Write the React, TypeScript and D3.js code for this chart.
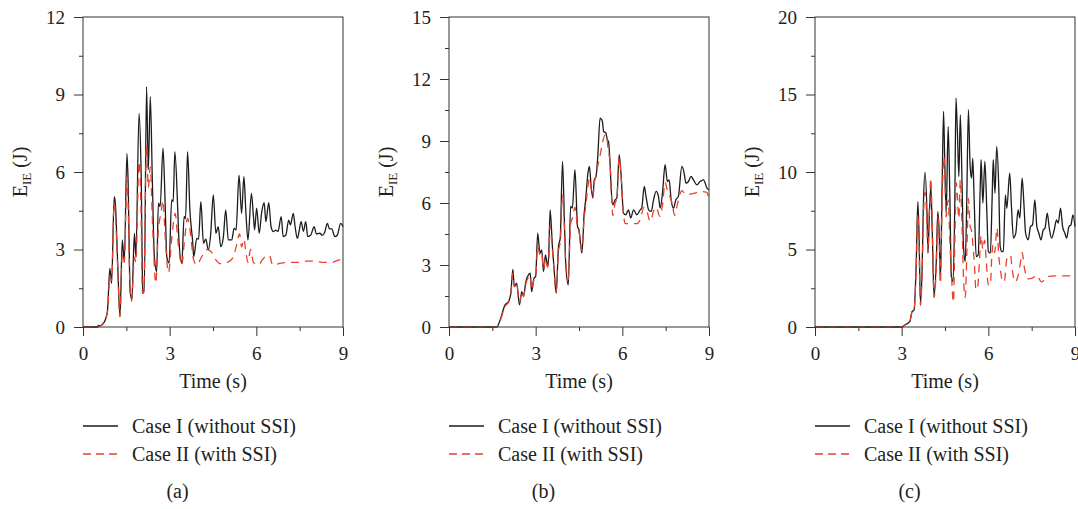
import React, { useEffect, useRef } from 'react';
import * as d3 from 'd3';

// time (s), internal energy (J)
const caseIA: [number, number][] = [
    [0, 0], [0.5, 0], [0.53, 0.06], [0.6, 0.05], [0.7, 0.14], [0.78, 0.3], [0.85, 0.66], [0.93, 2.27],
    [0.99, 1.69], [1.08, 5.05], [1.12, 4.79], [1.2, 2.47], [1.28, 0.4], [1.36, 3.37], [1.43, 2.53],
    [1.52, 6.72], [1.56, 5.69], [1.63, 1.43], [1.69, 1.05], [1.78, 3.63], [1.83, 2.72], [1.94, 8.27],
    [2.01, 6.08], [2.07, 1.43], [2.12, 1.37], [2.2, 9.3], [2.26, 6.08], [2.33, 8.92], [2.4, 5.69],
    [2.47, 2.72], [2.55, 2.14], [2.61, 4.79], [2.67, 4.66], [2.77, 6.92], [2.84, 4.92], [2.9, 2.72],
    [2.98, 2.47], [3.07, 4.92], [3.12, 4.85], [3.18, 6.79], [3.28, 4.53], [3.32, 3.37], [3.42, 2.47],
    [3.5, 4.27], [3.55, 4.2], [3.62, 6.79], [3.7, 4.53], [3.8, 3.24], [3.83, 2.72], [3.94, 3.43],
    [4.0, 3.4], [4.08, 4.85], [4.17, 3.24], [4.25, 3.4], [4.34, 2.98], [4.42, 3.6], [4.51, 5.11],
    [4.6, 3.63], [4.68, 3.88], [4.77, 3.11], [4.86, 3.5], [4.94, 4.53], [5.03, 3.37], [5.15, 3.37],
    [5.23, 3.82], [5.3, 3.75], [5.4, 5.88], [5.49, 4.4], [5.57, 5.82], [5.64, 4.4], [5.71, 3.37],
    [5.83, 5.17], [5.9, 4.27], [5.94, 3.76], [6.01, 4.6], [6.1, 3.63], [6.18, 4.4], [6.27, 4.81],
    [6.33, 4.08], [6.43, 4.81], [6.51, 3.88], [6.59, 3.69], [6.67, 3.75], [6.75, 3.7], [6.86, 4.27],
    [6.93, 3.5], [7.02, 3.55], [7.12, 4.14], [7.18, 3.95], [7.28, 4.4], [7.34, 3.9], [7.42, 3.43],
    [7.48, 3.7], [7.55, 4.08], [7.63, 3.7], [7.71, 4.08], [7.78, 3.5], [7.88, 3.55], [8.0, 3.88],
    [8.08, 3.6], [8.2, 3.63], [8.28, 3.55], [8.36, 3.65], [8.46, 4.01], [8.53, 3.8], [8.61, 3.8],
    [8.72, 3.5], [8.8, 3.55], [8.92, 4.01], [9.0, 3.88],
];

const caseIIA: [number, number][] = [
    [0, 0], [0.5, 0], [0.6, 0.05], [0.7, 0.12], [0.85, 0.6], [0.93, 2.0], [0.99, 1.8], [1.08, 4.8],
    [1.12, 4.4], [1.2, 2.3], [1.28, 0.4], [1.36, 2.8], [1.43, 2.5], [1.52, 5.8], [1.56, 4.8],
    [1.63, 1.4], [1.68, 1.0], [1.78, 2.7], [1.83, 2.5], [1.94, 6.4], [2.0, 5.0], [2.06, 1.3],
    [2.1, 1.3], [2.2, 7.05], [2.26, 5.4], [2.33, 6.2], [2.4, 4.2], [2.52, 1.7], [2.61, 3.8],
    [2.7, 4.4], [2.77, 4.9], [2.84, 3.6], [2.96, 2.1], [3.07, 3.4], [3.19, 4.4], [3.28, 3.4],
    [3.42, 2.4], [3.5, 3.2], [3.62, 4.2], [3.7, 3.8], [3.83, 2.6], [3.94, 2.4], [4.1, 2.7],
    [4.3, 3.0], [4.45, 2.9], [4.6, 2.6], [4.75, 2.45], [5.0, 2.5], [5.2, 2.7], [5.3, 3.1],
    [5.42, 3.6], [5.49, 3.1], [5.57, 3.4], [5.64, 2.9], [5.71, 2.5], [5.8, 3.0], [5.9, 2.5],
    [6.05, 2.4], [6.3, 2.72], [6.45, 2.78], [6.57, 2.4], [6.85, 2.47], [7.13, 2.5], [7.4, 2.5],
    [7.66, 2.55], [7.95, 2.55], [8.3, 2.5], [8.6, 2.5], [8.9, 2.6], [9.0, 2.6],
];

const caseIB: [number, number][] = [
    [0, 0], [1.65, 0], [1.77, 0.34], [1.94, 1.07], [2.06, 1.23], [2.14, 1.63], [2.21, 2.79],
    [2.26, 1.95], [2.34, 2.12], [2.44, 1.07], [2.52, 1.71], [2.58, 1.47], [2.66, 2.2], [2.75, 2.52],
    [2.81, 2.6], [2.86, 1.71], [2.94, 2.36], [3.0, 2.44], [3.07, 4.54], [3.15, 3.57], [3.21, 3.73],
    [3.27, 2.68], [3.34, 3.49], [3.41, 2.92], [3.45, 3.41], [3.5, 5.67], [3.58, 3.89], [3.64, 2.76],
    [3.71, 1.63], [3.79, 3.89], [3.85, 4.3], [3.93, 8.01], [4.0, 4.86], [4.04, 3.09], [4.13, 2.04],
    [4.21, 5.83], [4.27, 5.75], [4.36, 7.61], [4.45, 4.86], [4.5, 4.7], [4.6, 3.57], [4.68, 5.51],
    [4.73, 6.15], [4.81, 7.45], [4.86, 7.77], [4.92, 6.8], [4.98, 6.24], [5.03, 7.12], [5.09, 7.29],
    [5.15, 8.26], [5.23, 10.11], [5.31, 9.95], [5.35, 9.47], [5.43, 9.39], [5.48, 9.06], [5.52, 8.98],
    [5.58, 7.77], [5.61, 6.8], [5.67, 5.91], [5.75, 6.15], [5.81, 6.24], [5.89, 8.34], [5.96, 7.29],
    [6.04, 5.51], [6.12, 5.43], [6.21, 5.67], [6.29, 5.27], [6.39, 5.67], [6.5, 5.43], [6.62, 5.67],
    [6.67, 5.75], [6.76, 6.8], [6.82, 6.32], [6.91, 5.67], [7.0, 5.59], [7.08, 6.15], [7.17, 6.56],
    [7.25, 6.32], [7.31, 5.75], [7.39, 6.48], [7.48, 7.85], [7.56, 7.04], [7.62, 7.12], [7.69, 6.15],
    [7.77, 5.75], [7.85, 6.15], [7.94, 6.32], [8.06, 7.77], [8.14, 7.45], [8.2, 6.96], [8.29, 7.04],
    [8.38, 7.29], [8.46, 7.12], [8.58, 6.88], [8.69, 7.04], [8.81, 7.12], [8.93, 6.72], [9.0, 6.64],
];

const caseIIB: [number, number][] = [
    [0, 0], [1.65, 0], [1.77, 0.3], [1.94, 1.0], [2.06, 1.2], [2.14, 1.6], [2.21, 2.6], [2.26, 1.95],
    [2.34, 2.1], [2.44, 1.2], [2.52, 1.7], [2.58, 1.5], [2.66, 2.1], [2.75, 2.4], [2.81, 2.5],
    [2.86, 1.8], [2.94, 2.3], [3.0, 2.5], [3.07, 3.9], [3.15, 3.5], [3.21, 3.6], [3.27, 2.8],
    [3.34, 3.3], [3.41, 2.9], [3.45, 3.2], [3.5, 4.9], [3.58, 3.7], [3.64, 2.7], [3.71, 1.7],
    [3.79, 3.7], [3.85, 4.1], [3.93, 6.4], [4.0, 4.6], [4.04, 3.1], [4.13, 2.3], [4.21, 5.0],
    [4.28, 5.3], [4.36, 5.8], [4.45, 4.8], [4.5, 4.6], [4.6, 3.7], [4.68, 5.3], [4.73, 5.8],
    [4.81, 6.8], [4.86, 7.2], [4.92, 6.7], [4.98, 6.3], [5.03, 7.0], [5.09, 7.3], [5.15, 7.8],
    [5.23, 8.3], [5.31, 8.9], [5.4, 9.3], [5.45, 9.3], [5.5, 8.7], [5.58, 7.8], [5.62, 6.5],
    [5.67, 5.4], [5.75, 6.0], [5.81, 6.2], [5.89, 8.2], [5.96, 7.2], [6.04, 5.5], [6.1, 5.0],
    [6.3, 5.0], [6.5, 5.0], [6.62, 5.2], [6.75, 5.8], [6.85, 5.6], [6.97, 5.1], [7.08, 5.6],
    [7.17, 5.8], [7.3, 5.35], [7.39, 5.9], [7.48, 7.0], [7.56, 6.6], [7.62, 6.4], [7.72, 6.0],
    [7.81, 5.4], [7.9, 5.9], [8.06, 6.6], [8.2, 6.4], [8.47, 6.47], [8.73, 6.55], [8.93, 6.5],
    [9.0, 6.1],
];

const caseIC: [number, number][] = [
    [0, 0], [3.0, 0], [3.11, 0.13], [3.28, 0.34], [3.36, 0.99], [3.43, 1.1], [3.5, 3.9], [3.56, 8.09],
    [3.6, 6.05], [3.65, 1.53], [3.71, 3.9], [3.75, 7.77], [3.81, 9.97], [3.88, 7.13], [3.91, 4.76],
    [3.96, 7.34], [4.01, 9.06], [4.06, 6.05], [4.12, 2.0], [4.2, 4.33], [4.25, 7.45], [4.3, 6.05],
    [4.34, 3.04], [4.4, 9.06], [4.45, 13.91], [4.49, 10.79], [4.54, 7.34], [4.61, 12.94], [4.67, 8.2],
    [4.72, 3.25], [4.78, 2.93], [4.84, 8.2], [4.88, 14.77], [4.93, 12.51], [4.98, 9.71], [5.03, 13.69],
    [5.09, 9.28], [5.14, 5.19], [5.2, 4.22], [5.25, 7.77], [5.31, 14.02], [5.37, 10.36], [5.42, 9.6],
    [5.46, 10.89], [5.51, 8.2], [5.58, 4.54], [5.65, 4.65], [5.72, 9.06], [5.75, 10.79], [5.81, 7.99],
    [5.88, 10.68], [5.95, 7.34], [6.0, 4.87], [6.07, 4.76], [6.13, 8.2], [6.17, 10.79], [6.23, 8.63],
    [6.29, 11.65], [6.36, 9.06], [6.41, 5.19], [6.47, 4.87], [6.52, 4.87], [6.59, 8.53], [6.64, 7.66],
    [6.74, 9.92], [6.8, 7.77], [6.87, 5.73], [6.95, 6.05], [7.03, 7.56], [7.09, 7.02], [7.17, 9.6],
    [7.23, 7.99], [7.29, 6.05], [7.38, 5.62], [7.46, 6.48], [7.53, 6.59], [7.61, 8.2], [7.68, 6.48],
    [7.75, 6.05], [7.82, 5.62], [7.9, 6.26], [7.96, 6.37], [8.04, 7.34], [8.11, 6.37], [8.19, 5.73],
    [8.28, 6.26], [8.36, 6.91], [8.42, 6.7], [8.5, 7.66], [8.57, 6.48], [8.65, 6.05], [8.71, 5.73],
    [8.79, 6.48], [8.86, 6.59], [8.93, 7.23], [9.0, 6.48],
];

const caseIIC: [number, number][] = [
    [0, 0], [3.0, 0], [3.11, 0.13], [3.28, 0.34], [3.36, 0.99], [3.43, 1.1], [3.5, 3.6], [3.56, 7.3],
    [3.6, 5.5], [3.65, 1.4], [3.71, 3.6], [3.75, 7.0], [3.81, 8.7], [3.88, 6.5], [3.91, 4.9],
    [3.96, 7.6], [4.01, 9.6], [4.06, 6.5], [4.12, 1.9], [4.2, 4.0], [4.25, 7.1], [4.3, 5.6],
    [4.34, 2.8], [4.4, 8.0], [4.46, 11.0], [4.5, 9.5], [4.54, 7.1], [4.61, 8.2], [4.67, 5.5],
    [4.72, 3.5], [4.79, 1.6], [4.84, 5.5], [4.89, 9.3], [4.93, 8.4], [4.98, 7.0], [5.03, 9.5],
    [5.09, 6.5], [5.14, 3.2], [5.2, 1.9], [5.26, 5.0], [5.31, 8.3], [5.37, 6.5], [5.42, 6.2],
    [5.47, 5.2], [5.52, 4.0], [5.57, 2.4], [5.63, 2.6], [5.7, 4.5], [5.75, 5.9], [5.81, 5.0],
    [5.87, 5.6], [5.93, 4.2], [6.0, 2.7], [6.07, 2.7], [6.12, 4.6], [6.17, 5.3], [6.22, 4.8],
    [6.3, 6.4], [6.36, 4.6], [6.41, 3.8], [6.5, 2.9], [6.56, 3.0], [6.63, 4.3], [6.7, 4.6],
    [6.77, 4.6], [6.82, 3.8], [6.93, 2.9], [7.02, 3.25], [7.1, 4.0], [7.17, 4.8], [7.25, 3.8],
    [7.36, 3.1], [7.53, 3.15], [7.66, 3.35], [7.85, 2.9], [8.03, 3.25], [8.3, 3.3], [8.64, 3.3],
    [9.0, 3.3],
];

const yMaxes = [12, 15, 20];
const yMajorSteps = [3, 3, 5];
const xMajorTicks = [0, 3, 6, 9];
const xMinorTicks = [1.5, 4.5, 7.5];
const captions = ['(a)', '(b)', '(c)'];
const legendLabels = ['Case I (without SSI)', 'Case II (with SSI)'];

const panels = [
    { black: caseIA, red: caseIIA },
    { black: caseIB, red: caseIIB },
    { black: caseIC, red: caseIIC },
];

const FONT = "'Liberation Serif', 'Times New Roman', serif";
const AXIS_COLOR = '#333';
const BLACK = '#1c1c1c';
const RED = '#e8402a';

const App = () => {
    const ref = useRef<SVGSVGElement>(null);

    useEffect(() => {
        const svg = d3.select(ref.current);
        svg.selectAll('*').remove();

        const plotW = 260;
        const plotH = 310;
        const top = 17;

        panels.forEach((p, i) => {
            const left = 83 + i * 366;
            const g = svg.append('g').attr('transform', `translate(${left},${top})`);

            const x = d3.scaleLinear().domain([0, 9]).range([0, plotW]);
            const y = d3.scaleLinear().domain([0, yMaxes[i]]).range([plotH, 0]);

            const step = yMajorSteps[i];
            const yMajor = d3.range(0, yMaxes[i] + 0.001, step);
            const yMinor = d3.range(step / 2, yMaxes[i], step);

            // lines
            const line = d3.line<[number, number]>()
                .x((d) => x(d[0]))
                .y((d) => y(d[1]))
                .curve(d3.curveMonotoneX);

            g.append('path')
                .attr('d', line(p.black))
                .attr('fill', 'none')
                .attr('stroke', BLACK)
                .attr('stroke-width', 1.3)
                .attr('stroke-linejoin', 'round');

            g.append('path')
                .attr('d', line(p.red))
                .attr('fill', 'none')
                .attr('stroke', RED)
                .attr('stroke-width', 1.3)
                .attr('stroke-dasharray', '8,6');

            // frame
            g.append('rect')
                .attr('x', 0)
                .attr('y', 0)
                .attr('width', plotW)
                .attr('height', plotH)
                .attr('fill', 'none')
                .attr('stroke', AXIS_COLOR)
                .attr('stroke-width', 1);

            // y axis, major + minor
            const yAxis = g.append('g')
                .call(d3.axisLeft(y).tickValues(yMajor).tickSize(9).tickPadding(9).tickSizeOuter(0));
            const yMinorAxis = g.append('g')
                .call(d3.axisLeft(y).tickValues(yMinor).tickSize(4).tickFormat(() => '').tickSizeOuter(0));

            // x axis, major + minor
            const xAxis = g.append('g')
                .attr('transform', `translate(0,${plotH})`)
                .call(d3.axisBottom(x).tickValues(xMajorTicks).tickSize(9).tickSizeOuter(0));
            const xMinorAxis = g.append('g')
                .attr('transform', `translate(0,${plotH})`)
                .call(d3.axisBottom(x).tickValues(xMinorTicks).tickSize(4).tickFormat(() => '').tickSizeOuter(0));

            [yAxis, yMinorAxis, xAxis, xMinorAxis].forEach((a) => {
                a.select('.domain').remove();
                a.attr('font-family', FONT).attr('font-size', 19);
                a.selectAll('line').attr('stroke', AXIS_COLOR);
                a.selectAll('text').attr('fill', '#222');
            });
            xAxis.selectAll('text').attr('y', 33).attr('dy', 0);

            // axis titles
            g.append('text')
                .attr('x', plotW / 2)
                .attr('y', 371)
                .attr('text-anchor', 'middle')
                .attr('font-family', FONT)
                .attr('font-size', 20)
                .attr('fill', '#222')
                .text('Time (s)');

            const yt = g.append('text')
                .attr('transform', `translate(-56,${plotH / 2}) rotate(-90)`)
                .attr('text-anchor', 'middle')
                .attr('font-family', FONT)
                .attr('font-size', 20)
                .attr('fill', '#222');
            yt.append('tspan').text('E');
            yt.append('tspan').attr('font-size', 13).attr('dy', 4).text('IE');
            yt.append('tspan').attr('dy', -4).text(' (J)');

            // legend
            const legend = g.append('g').attr('transform', `translate(0,${426 - top})`);
            legendLabels.forEach((label, k) => {
                legend.append('line')
                    .attr('x1', 0)
                    .attr('x2', 35)
                    .attr('y1', k * 28)
                    .attr('y2', k * 28)
                    .attr('stroke', k === 0 ? BLACK : RED)
                    .attr('stroke-width', 1.3)
                    .attr('stroke-dasharray', k === 0 ? null : '8,5');
                legend.append('text')
                    .attr('x', 49)
                    .attr('y', k * 28 + 7)
                    .attr('font-family', FONT)
                    .attr('font-size', 20)
                    .attr('fill', '#222')
                    .text(label);
            });

            // caption
            g.append('text')
                .attr('x', 94.5)
                .attr('y', 498 - top)
                .attr('text-anchor', 'middle')
                .attr('font-family', FONT)
                .attr('font-size', 20)
                .attr('fill', '#222')
                .text(captions[i]);
        });
    }, []);

    return (
        <svg
            ref={ref}
            width={1078}
            height={509}
            style={{ position: 'absolute', left: 0, top: 0, background: '#fff' }}
        />
    );
};

export default App;
